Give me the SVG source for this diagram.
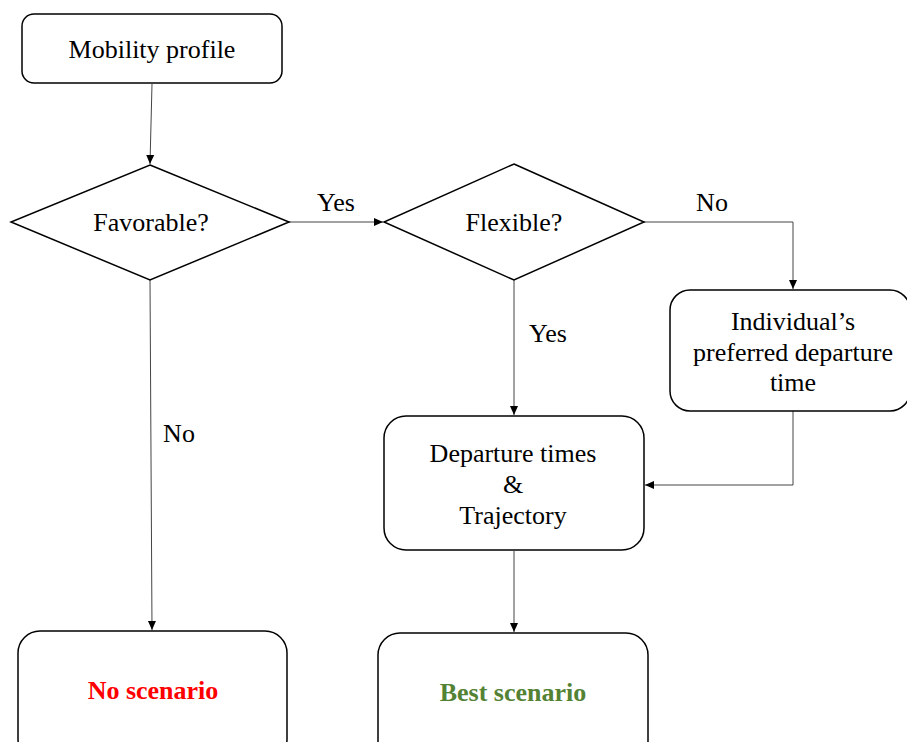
<svg xmlns="http://www.w3.org/2000/svg" width="907" height="742" viewBox="0 0 907 742">
<style>
.box{fill:#fff;stroke:#000;stroke-width:1.5}
.t{font-family:"Liberation Serif","Times New Roman",serif;font-size:26px;fill:#000;text-anchor:middle}
.b{font-weight:bold}
.c{fill:none;stroke:#444;stroke-width:1}
</style>
<defs>
<marker id="ah" markerWidth="10" markerHeight="10" refX="9" refY="5" orient="auto" markerUnits="userSpaceOnUse">
<path d="M0,1 L9,5 L0,9 Z" fill="#000"/>
</marker>
</defs>
<rect width="907" height="742" fill="#fff"/>
<g id="connectors">
<path class="c" d="M152,84 L150,164" marker-end="url(#ah)"/>
<path class="c" d="M289,222 L383,222" marker-end="url(#ah)"/>
<path class="c" d="M644,222 L793,222 L793,289" marker-end="url(#ah)"/>
<path class="c" d="M514,280 L514,415" marker-end="url(#ah)"/>
<path class="c" d="M793,411 L793,485 L645,485" marker-end="url(#ah)"/>
<path class="c" d="M150,280 L152,630" marker-end="url(#ah)"/>
<path class="c" d="M514,551 L514,632" marker-end="url(#ah)"/>
<text class="t" x="336" y="211">Yes</text>
<text class="t" x="712" y="211">No</text>
<text class="t" x="548" y="342">Yes</text>
<text class="t" x="179" y="442">No</text>
</g>
<g id="mobility">
<rect class="box" x="22" y="14" width="260" height="69" rx="12"/>
<text class="t" x="152" y="58">Mobility profile</text>
</g>
<g id="favorable">
<polygon class="box" points="150,165 289,222 150,280 11,222"/>
<text class="t" x="151" y="231">Favorable?</text>
</g>
<g id="flexible">
<polygon class="box" points="514,164 644,222 514,280 384,222"/>
<text class="t" x="514" y="231">Flexible?</text>
</g>
<g id="individual">
<rect class="box" x="670" y="290" width="240" height="121" rx="20"/>
<text class="t" x="793" y="330">Individual’s</text>
<text class="t" x="793" y="361">preferred departure</text>
<text class="t" x="793" y="391">time</text>
</g>
<g id="departure">
<rect class="box" x="384" y="416" width="260" height="134" rx="22"/>
<text class="t" x="513" y="462">Departure times</text>
<text class="t" x="513" y="493">&amp;</text>
<text class="t" x="513" y="524">Trajectory</text>
</g>
<g id="noscenario">
<rect class="box" x="18" y="631" width="269" height="130" rx="22"/>
<text class="t b" x="153" y="699" style="fill:#ff0000">No scenario</text>
</g>
<g id="bestscenario">
<rect class="box" x="378" y="633" width="270" height="130" rx="22"/>
<text class="t b" x="513" y="701" style="fill:#548235">Best scenario</text>
</g>
</svg>
